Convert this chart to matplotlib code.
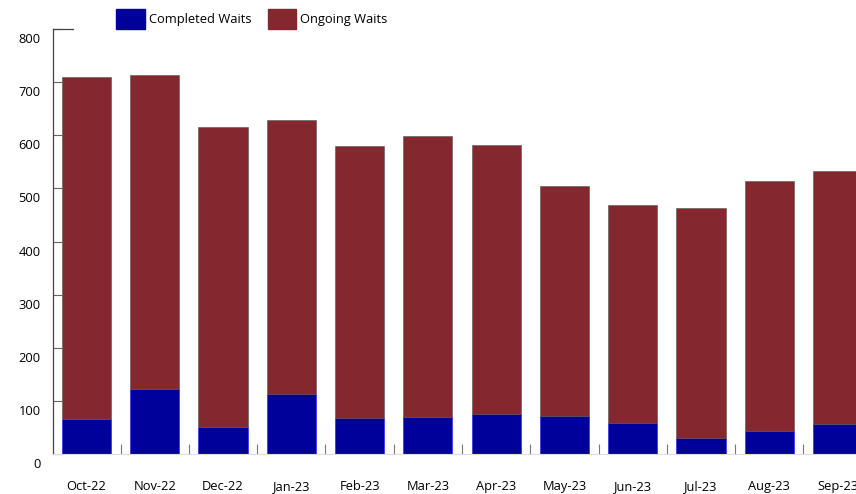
import matplotlib
matplotlib.use("Agg")
from matplotlib import pyplot as plt
from matplotlib import transforms
from matplotlib.patches import Patch
import numpy as np

plt.rcParams['font.family'] = ['Open Sans', 'DejaVu Sans']

# значення
months = ['Oct-22', 'Nov-22', 'Dec-22', 'Jan-23', 'Feb-23', 'Mar-23',
          'Apr-23', 'May-23', 'Jun-23', 'Jul-23', 'Aug-23', 'Sep-23']
completed = [66, 122, 50, 113, 68, 69, 76, 72, 59, 31, 43, 56]
ongoing = [643, 592, 565, 515, 511, 529, 506, 433, 409, 433, 471, 476]
y_ticks = [0, 100, 200, 300, 400, 500, 600, 700, 800]

blue = '#00009a'
red = '#84272e'

fig = plt.figure(figsize=(8.56, 4.94), dpi=100)
ax = fig.add_axes([53 / 856, 40 / 494, 803 / 856, 425 / 494])

x = np.arange(len(months))
ax.bar(x, completed, width=0.72, color=blue, edgecolor='#1a1aff', linewidth=0.4)
ax.bar(x, ongoing, width=0.72, bottom=completed, color=red,
       edgecolor='#555555', linewidth=0.4)

# права межа обрізана краєм картинки, як в оригіналі (Sep-23 видно частково)
ax.set_xlim(-0.49, 11.27)
ax.set_ylim(0, 800)
ax.set_yticks(y_ticks)
ax.set_xticks(x)
ax.set_xticklabels(months, fontsize=9.3)
ax.set_xticks(x[:-1] + 0.5, minor=True)

ax.tick_params(axis='y', direction='in', length=6.5, width=0.8, color='#666666',
               labelsize=9.3, pad=9)
ax.tick_params(axis='x', which='major', length=0, pad=19)
ax.tick_params(axis='x', which='minor', direction='in', length=7, width=0.8,
               color='#777777')

# підписи осі Y трохи нижче за поділки, як в оригіналі
shift = transforms.ScaledTranslation(0, -9 / 100, fig.dpi_scale_trans)
for lab in ax.get_yticklabels():
    lab.set_transform(lab.get_transform() + shift)

for side in ['top', 'right']:
    ax.spines[side].set_visible(False)
ax.spines['left'].set_color('#444444')
ax.spines['left'].set_linewidth(0.9)
ax.spines['bottom'].set_color('#dddddd')
ax.spines['bottom'].set_linewidth(0.8)
ax.plot([0, 20 / 803], [1, 1], transform=ax.transAxes, color='#444444',
        linewidth=0.9, clip_on=False)

handles = [Patch(facecolor=blue, edgecolor=blue, label='Completed Waits'),
           Patch(facecolor=red, edgecolor=red, label='Ongoing Waits')]
fig.legend(handles=handles, loc='upper left', bbox_to_anchor=(110 / 856, 0.995),
           ncol=2, frameon=False, fontsize=9.3, handlelength=2.2, handleheight=2.0,
           handletextpad=0.3, columnspacing=1.3, borderaxespad=0.1)

fig.savefig('out.png', dpi=100)
